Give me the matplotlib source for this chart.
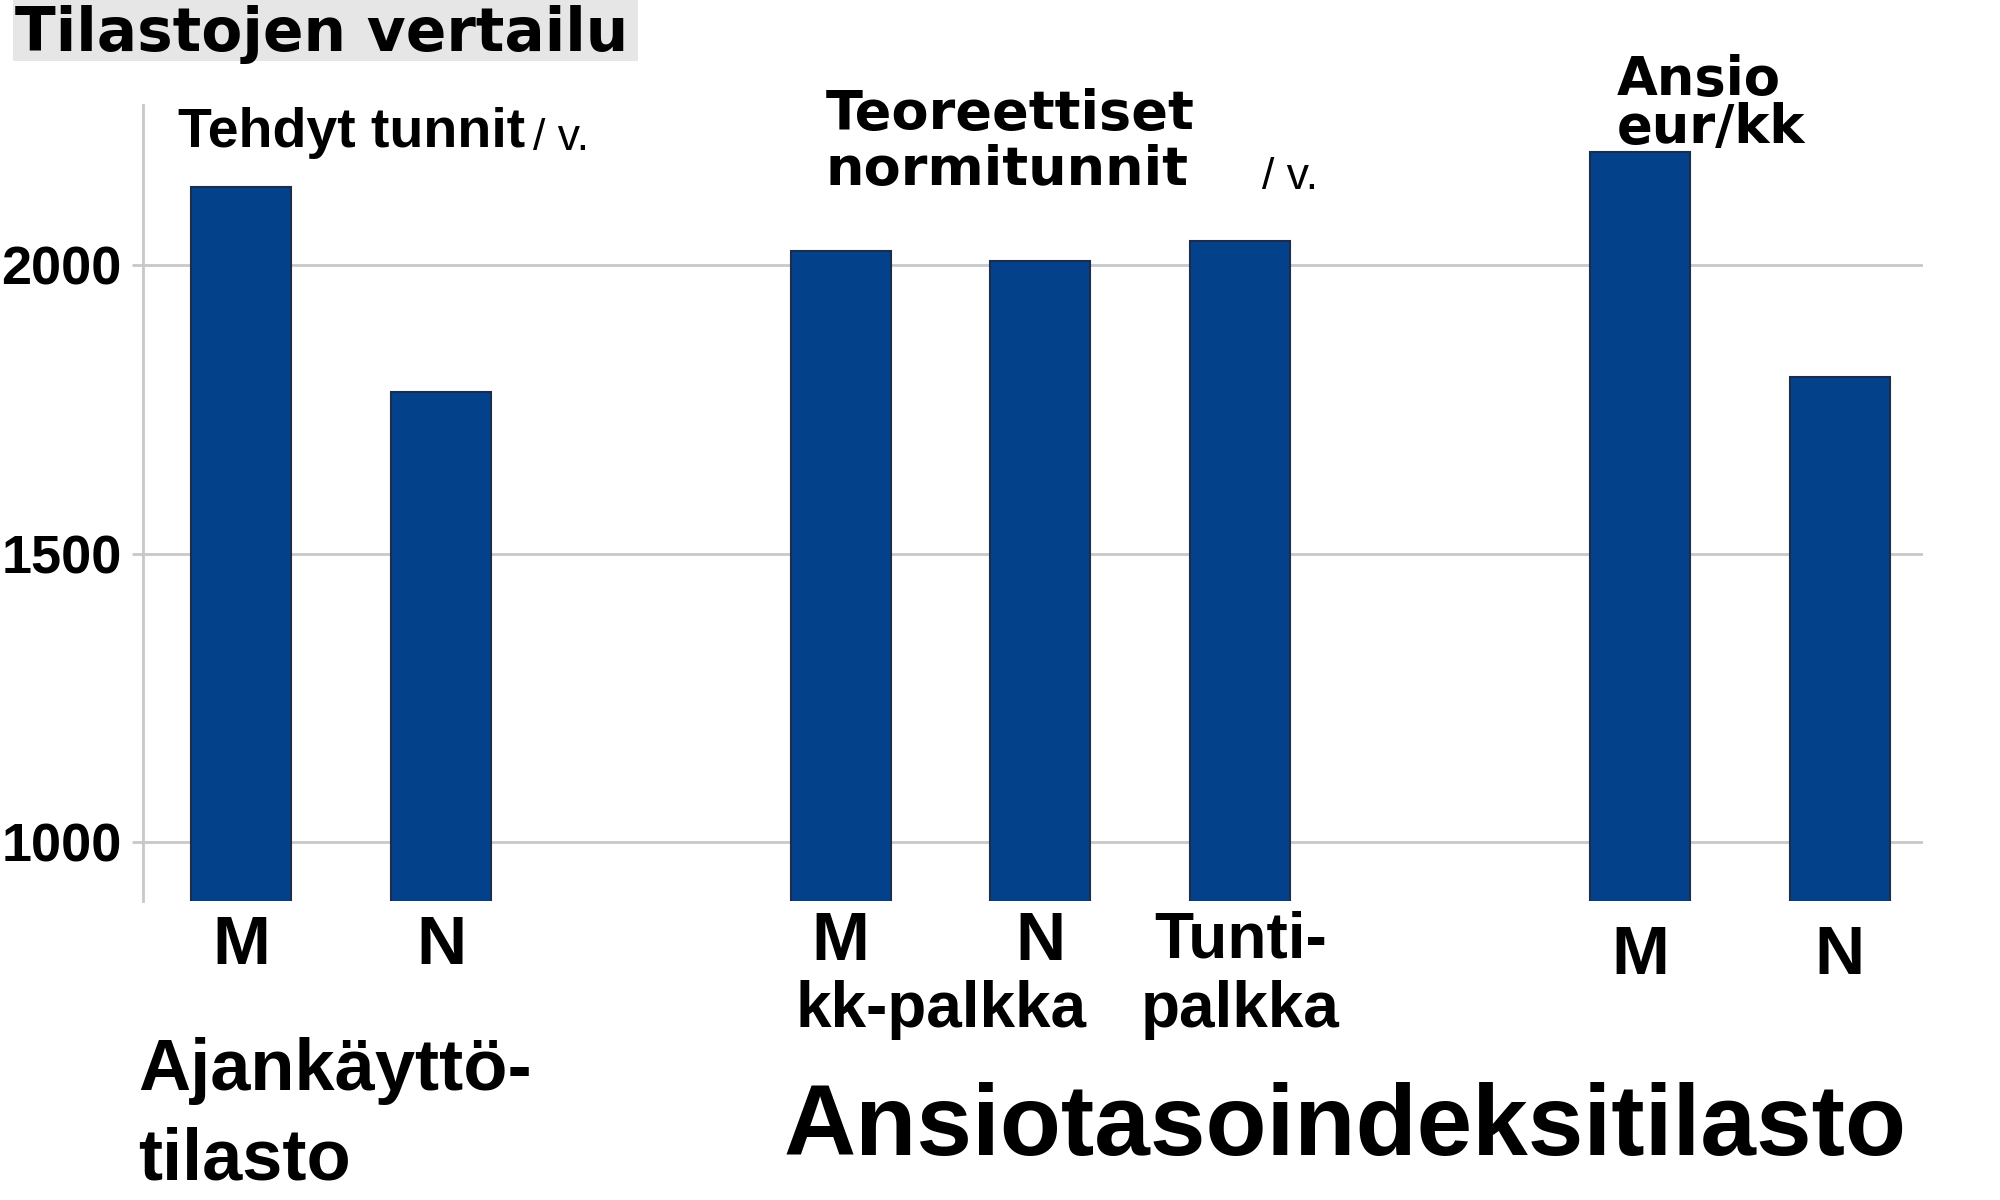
import matplotlib
matplotlib.use('Agg')
from matplotlib import pyplot as plt
from matplotlib import transforms
from matplotlib.patches import Rectangle

# data
x_pos = [0, 1, 3, 4, 5, 7, 8]
values = [2136, 1780, 2024, 2008, 2042, 2196, 1807]
bar_labels = ['M', 'N', 'M', 'N', 'Tunti-', 'M', 'N']
label_tops = [914, 914, 910, 910, 910, 924, 924]   # px from top of figure
yticks = [1000, 1500, 2000]

narrow = dict(family='Liberation Sans', fontweight='bold')
wide = ['DejaVu Sans']
bar_color = '#03428a'
grid_color = '#c8c8c8'

fig = plt.figure(figsize=(20, 12), dpi=100)
fig.patch.set_facecolor('white')

W, H = 2000.0, 1200.0
def fx(px):
    return px / W
def fy(py):
    return 1 - py / H

ax = fig.add_axes([fx(142.7), fy(900.7), fx(1923) - fx(142.7), fy(105) - fy(900.7)])
ax.bar(x_pos, values, width=0.5, color=bar_color, edgecolor='#1c2c4c', linewidth=1.5, zorder=3)
ax.set_xlim(-0.493, 8.417)
ax.set_ylim(898, 2278)

ax.set_yticks(yticks)
ax.set_yticklabels([str(v) for v in yticks], fontsize=39, **narrow)
ax.tick_params(axis='y', length=8, width=2, color=grid_color, pad=7)
ax.set_xticks([])
ax.grid(axis='y', color=grid_color, linewidth=2, zorder=0)
for s in ['top', 'right', 'bottom']:
    ax.spines[s].set_visible(False)
ax.spines['left'].set_color(grid_color)
ax.spines['left'].set_linewidth(2)

# labels under the bars
trans = transforms.blended_transform_factory(ax.transData, fig.transFigure)
for x, lab, top in zip(x_pos, bar_labels, label_tops):
    ax.text(x, fy(top), lab, transform=trans, ha='center', va='top',
            fontsize=50 if len(lab) == 1 else 46, **narrow)
ax.text(3.5, fy(980), 'kk-palkka', transform=trans, ha='center', va='top',
        fontsize=46, **narrow)
ax.text(5, fy(980), 'palkka', transform=trans, ha='center', va='top',
        fontsize=46, **narrow)

# title with gray box
fig.patches.append(Rectangle((fx(13), fy(61)), fx(638) - fx(13), fy(0) - fy(61),
                             transform=fig.transFigure, facecolor='#e6e6e6',
                             edgecolor='none', zorder=0))
fig.text(fx(15), fy(51), 'Tilastojen vertailu', family=wide, fontweight='bold',
         fontsize=43, va='baseline', ha='left')

# group headers
t1 = fig.text(fx(178), fy(147), 'Tehdyt tunnit', fontsize=40,
              va='baseline', ha='left', **narrow)
ax.annotate('/ v.', xy=(1, 0), xycoords=t1, xytext=(6, 0), textcoords='offset points',
            family='Liberation Sans', fontsize=32, va='bottom', ha='left')

fig.text(fx(826), fy(129), 'Teoreettiset', family=wide, fontweight='bold',
         fontsize=39, va='baseline', ha='left')
fig.text(fx(826), fy(185), 'normitunnit', family=wide, fontweight='bold',
         fontsize=39, va='baseline', ha='left')
fig.text(fx(1262), fy(189), '/ v.', family='Liberation Sans', fontsize=32,
         va='baseline', ha='left')

fig.text(fx(1617), fy(54), 'Ansio\neur/kk', family=wide, fontweight='bold',
         fontsize=38, va='top', ha='left', linespacing=0.9)

# statistic names at the bottom
fig.text(fx(138), fy(1090), 'Ajankäyttö-', fontsize=52, va='baseline', ha='left', **narrow)
fig.text(fx(138), fy(1180), 'tilasto', fontsize=52, va='baseline', ha='left', **narrow)
fig.text(fx(784), fy(1155), 'Ansiotasoindeksitilasto', fontsize=72,
         va='baseline', ha='left', **narrow)

fig.savefig('out.png', dpi=100, facecolor='white')
